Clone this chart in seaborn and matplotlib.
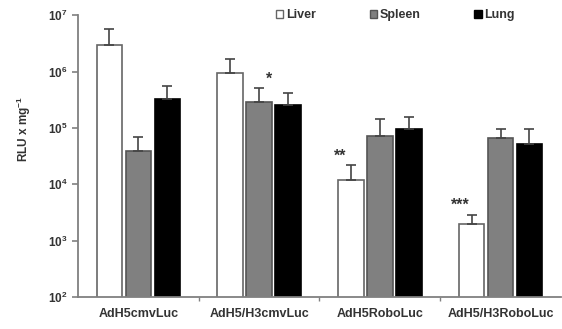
import numpy as np
import pandas as pd
import matplotlib
matplotlib.use("Agg")
import matplotlib.pyplot as plt
import seaborn as sns
from matplotlib.patches import Patch
from matplotlib.ticker import NullLocator

# data (RLU per mg, upper end of error bar)
constructs = ["AdH5cmvLuc", "AdH5/H3cmvLuc", "AdH5RoboLuc", "AdH5/H3RoboLuc"]
tissues = ["Liver", "Spleen", "Lung"]
liver = [3.0e6, 9.3e5, 1.2e4, 2.0e3]
liver_upper = [5.6e6, 1.7e6, 2.2e4, 2.9e3]
spleen = [3.9e4, 2.9e5, 7.2e4, 6.5e4]
spleen_upper = [6.9e4, 5.1e5, 1.43e5, 9.4e4]
lung = [3.2e5, 2.5e5, 9.4e4, 5.2e4]
lung_upper = [5.5e5, 4.2e5, 1.55e5, 9.4e4]
stars = [("Spleen", 1, "*"), ("Liver", 2, "**"), ("Liver", 3, "***")]
ytick_exp = [2, 3, 4, 5, 6, 7]

means = {"Liver": liver, "Spleen": spleen, "Lung": lung}
uppers = {"Liver": liver_upper, "Spleen": spleen_upper, "Lung": lung_upper}
rows = []
for t in tissues:
    for c, v in zip(constructs, means[t]):
        rows.append({"construct": c, "tissue": t, "rlu": v})
df = pd.DataFrame(rows)

sns.set_style("ticks")
plt.rcParams["font.family"] = ["Liberation Sans", "DejaVu Sans"]
plt.rcParams["font.weight"] = "bold"
plt.rcParams["mathtext.fontset"] = "custom"
plt.rcParams["mathtext.rm"] = "Liberation Sans:bold"
plt.rcParams["mathtext.bf"] = "Liberation Sans:bold"
plt.rcParams["mathtext.default"] = "rm"

fills = {"Liver": "white", "Spleen": "#808080", "Lung": "black"}
edges = {"Liver": "#666666", "Spleen": "#555555", "Lung": "black"}

fig = plt.figure(figsize=(5.62, 3.29), dpi=100)
ax = fig.add_axes([0.139, 0.097, 0.859, 0.857])

sns.barplot(data=df, x="construct", y="rlu", hue="tissue", order=constructs,
            hue_order=tissues, palette=fills, width=0.72, gap=0.12,
            errorbar=None, legend=False, ax=ax, linewidth=1.2)
ax.set_yscale("log")

for t, cont in zip(tissues, ax.containers):
    xs = []
    for bar in cont:
        bar.set_edgecolor(edges[t])
        xs.append(bar.get_x() + bar.get_width() / 2)
    m = np.array(means[t])
    u = np.array(uppers[t])
    ax.errorbar(xs, m, yerr=[np.zeros_like(m), u - m], fmt="none",
                ecolor="#444444", elinewidth=1.2, capsize=3.5, capthick=1.2,
                zorder=1)

# significance marks
for t, i, s in stars:
    cont = ax.containers[tissues.index(t)]
    bar = cont[i]
    xc = bar.get_x() + bar.get_width() / 2
    dx = 7 if t == "Spleen" else -8
    ax.annotate(s, xy=(xc, uppers[t][i]), xytext=(dx, 1), textcoords="offset points",
                ha="center", va="bottom", fontsize=11.5, color="#333333")

ax.set_ylim(1e2, 1e7)
ax.set_xlim(-0.5, 3.5)
ax.set_yticks([10.0 ** e for e in ytick_exp])
ax.set_yticklabels([r"$10^{%d}$" % e for e in ytick_exp])
ax.yaxis.set_minor_locator(NullLocator())
ax.set_xticks([0.5, 1.5, 2.5], minor=True)
ax.tick_params(axis="x", which="major", length=0, pad=8, labelsize=9, colors="#333333")
ax.tick_params(axis="x", which="minor", length=3, width=1, color="#808080")
ax.tick_params(axis="y", length=4, width=1.2, color="#808080", labelsize=8.5,
               labelcolor="#333333")
for lab in ax.get_xticklabels() + ax.get_yticklabels():
    lab.set_fontweight("bold")

ax.set_xlabel("")
ax.set_ylabel(r"RLU x mg$^{-1}$", fontsize=8.5, fontweight="bold", color="#333333")
ax.yaxis.set_label_coords(-0.093, 0.596)

sns.despine(ax=ax)
for side in ["left", "bottom"]:
    ax.spines[side].set_color("#808080")
    ax.spines[side].set_linewidth(1.3)

handles = [Patch(facecolor=fills[t], edgecolor=edges[t], linewidth=1) for t in tissues]
ax.legend(handles, tissues, ncol=3, loc="center", bbox_to_anchor=(0.657, 1.0),
          frameon=False, handlelength=0.6, handleheight=0.6, handletextpad=0.2,
          columnspacing=4.3, prop={"weight": "bold", "size": 9},
          labelcolor="#333333")

fig.savefig("out.png", dpi=100)
